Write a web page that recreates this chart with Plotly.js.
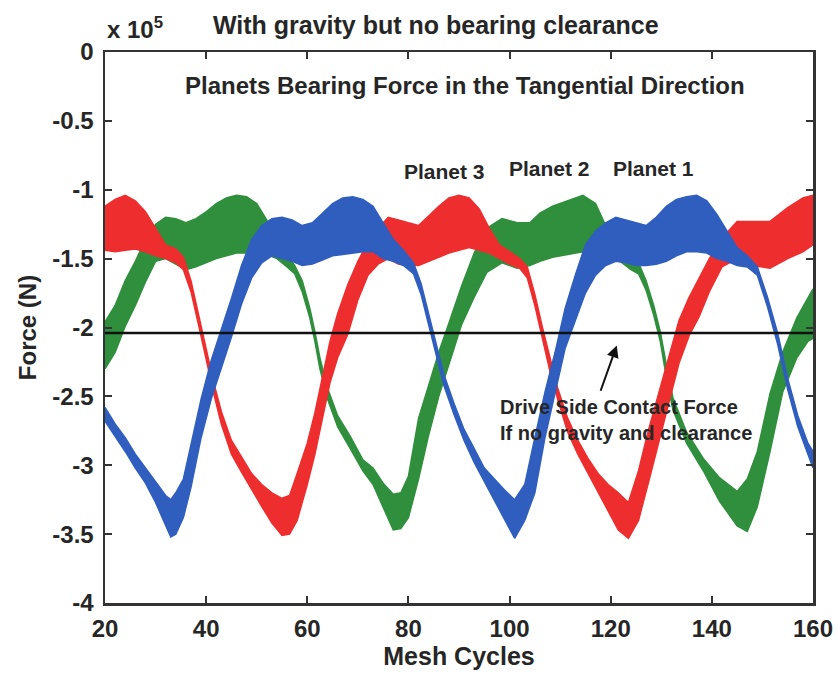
<!DOCTYPE html>
<html>
<head>
<meta charset="utf-8">
<script src="https://cdn.plot.ly/plotly-3.0.1.min.js"></script>
<style>html,body{margin:0;padding:0;background:#fff;}#chart{width:838px;height:673px;}</style>
</head>
<body>
<div id="chart"></div>
<script>
// Values in units of 1e5 N (axis shows "x 10^5")
// Planet 1 (blue): band (lower / upper envelope)
const p1X  = [20,22,24,26,28,30,32,33,34,35.5,37,39,41,43,45,47,49,51,53,55,57,59,61,63,65,67,69,71,73,75,77,79,81,82.5,84,85.5,87,89,91,93,95,97,99,101,103,105,107,109,111,113,115,117,119,121,123,125,127,129,131,133,135,137,139,141,143,145,147,149,151,153,155,157,159,160];
const p1Lo = [-2.68,-2.79,-2.90,-3.02,-3.13,-3.27,-3.44,-3.52,-3.50,-3.38,-3.16,-2.80,-2.52,-2.30,-2.07,-1.83,-1.64,-1.53,-1.48,-1.50,-1.52,-1.55,-1.54,-1.51,-1.48,-1.47,-1.46,-1.45,-1.45,-1.50,-1.52,-1.55,-1.61,-1.76,-1.98,-2.20,-2.42,-2.63,-2.82,-2.98,-3.12,-3.26,-3.40,-3.53,-3.40,-3.20,-2.80,-2.48,-2.15,-1.95,-1.75,-1.62,-1.55,-1.52,-1.53,-1.55,-1.55,-1.54,-1.52,-1.48,-1.45,-1.45,-1.46,-1.50,-1.52,-1.55,-1.56,-1.62,-1.85,-2.12,-2.45,-2.72,-2.92,-3.02];
const p1Hi = [-2.58,-2.70,-2.80,-2.92,-3.02,-3.12,-3.22,-3.25,-3.20,-3.10,-2.86,-2.52,-2.24,-2.02,-1.79,-1.55,-1.36,-1.26,-1.21,-1.20,-1.22,-1.26,-1.24,-1.17,-1.10,-1.06,-1.05,-1.07,-1.12,-1.24,-1.36,-1.44,-1.53,-1.68,-1.90,-2.12,-2.34,-2.55,-2.74,-2.88,-3.02,-3.10,-3.18,-3.25,-3.14,-2.80,-2.47,-2.18,-1.86,-1.62,-1.40,-1.30,-1.24,-1.20,-1.22,-1.24,-1.26,-1.20,-1.12,-1.07,-1.05,-1.04,-1.08,-1.18,-1.30,-1.42,-1.48,-1.56,-1.78,-2.04,-2.37,-2.64,-2.84,-2.90];

// Planet 2 (green)
const p2X  = [20,22,24,26,28,30,32,34,36,38,40,42,44,46,48,50,52,54,56,57.5,59,60.5,61.5,62.5,64,66,68.5,71,73,75,77,78.5,80,82,84,86,88,90.5,93,95.5,98.5,101.5,104,106,108.5,111.5,114.5,117,119.5,121.5,124,125.5,127,128.5,129.8,131,132.3,135,138.3,141.5,145,147,149,151.5,154,156.8,159,160];
const p2Lo = [-2.30,-2.18,-1.99,-1.84,-1.67,-1.52,-1.50,-1.54,-1.58,-1.56,-1.53,-1.50,-1.48,-1.46,-1.46,-1.48,-1.47,-1.50,-1.56,-1.61,-1.74,-1.93,-2.10,-2.30,-2.52,-2.72,-2.88,-3.04,-3.14,-3.30,-3.47,-3.46,-3.38,-3.10,-2.78,-2.50,-2.27,-1.98,-1.78,-1.60,-1.53,-1.57,-1.55,-1.52,-1.49,-1.47,-1.45,-1.45,-1.45,-1.51,-1.58,-1.61,-1.73,-1.91,-2.10,-2.36,-2.60,-2.84,-3.04,-3.26,-3.44,-3.48,-3.30,-2.90,-2.47,-2.22,-2.10,-2.08];
const p2Hi = [-1.96,-1.84,-1.66,-1.52,-1.36,-1.25,-1.20,-1.21,-1.24,-1.21,-1.16,-1.10,-1.06,-1.04,-1.05,-1.10,-1.22,-1.38,-1.48,-1.55,-1.66,-1.86,-2.03,-2.22,-2.44,-2.64,-2.79,-2.96,-3.02,-3.13,-3.21,-3.20,-3.08,-2.66,-2.42,-2.18,-1.97,-1.70,-1.46,-1.28,-1.21,-1.24,-1.24,-1.17,-1.12,-1.08,-1.04,-1.10,-1.30,-1.42,-1.50,-1.53,-1.66,-1.84,-2.03,-2.27,-2.51,-2.76,-2.95,-3.09,-3.19,-3.10,-2.90,-2.48,-2.18,-1.93,-1.78,-1.72];

// Planet 3 (red)
const p3X  = [20,22,24,26,28,30,32,34,35.5,37,38.5,40,41.5,43,45,47,49,51,53,55,56.5,58,60,61.5,63,64.5,66,68,70,72,74,76,78,80,82,84,86,88,90,92,94,96,98,100,102,103.5,105,106.5,108,109.5,111.5,113.5,115.5,117.5,119.5,121.5,123.5,125.5,127.5,129.5,131.5,133.5,135.5,137.5,139.5,142,145,148,151.5,155,158,160];
const p3Lo = [-1.44,-1.45,-1.44,-1.43,-1.45,-1.48,-1.50,-1.53,-1.58,-1.74,-1.98,-2.24,-2.48,-2.70,-2.92,-3.05,-3.18,-3.30,-3.42,-3.51,-3.50,-3.40,-3.14,-2.92,-2.66,-2.40,-2.22,-2.05,-1.80,-1.62,-1.54,-1.50,-1.54,-1.55,-1.55,-1.52,-1.49,-1.46,-1.44,-1.42,-1.44,-1.46,-1.50,-1.54,-1.57,-1.64,-1.84,-2.08,-2.32,-2.52,-2.76,-2.92,-3.06,-3.20,-3.34,-3.47,-3.53,-3.40,-3.12,-2.84,-2.54,-2.26,-2.06,-1.92,-1.74,-1.56,-1.50,-1.55,-1.57,-1.50,-1.45,-1.40];
const p3Hi = [-1.12,-1.07,-1.04,-1.08,-1.16,-1.28,-1.40,-1.43,-1.49,-1.66,-1.90,-2.16,-2.40,-2.61,-2.82,-2.94,-3.06,-3.14,-3.20,-3.24,-3.22,-3.06,-2.84,-2.62,-2.36,-2.10,-1.90,-1.69,-1.52,-1.38,-1.28,-1.20,-1.22,-1.24,-1.26,-1.19,-1.12,-1.06,-1.04,-1.06,-1.14,-1.28,-1.40,-1.45,-1.50,-1.56,-1.76,-2.00,-2.22,-2.44,-2.66,-2.82,-2.95,-3.06,-3.14,-3.20,-3.27,-3.04,-2.74,-2.48,-2.22,-1.95,-1.78,-1.64,-1.50,-1.35,-1.23,-1.23,-1.23,-1.13,-1.06,-1.04];

// Drive side contact force (no gravity, no clearance)
const driveX = [20, 160];
const driveY = [-2.04, -2.04];

// Axis ticks
const xTicks = [20, 40, 60, 80, 100, 120, 140, 160];
const yTickVals = [0, -0.5, -1, -1.5, -2, -2.5, -3, -3.5, -4];
const yTickText = ['0', '-0.5', '-1', '-1.5', '-2', '-2.5', '-3', '-3.5', '-4'];

const FONT = 'Liberation Sans, Arial, sans-serif';
const TXT = '#262626';

function band(x, lo, hi, color) {
  return [
    {x: x, y: lo, type: 'scatter', mode: 'lines', line: {color: color, width: 1.5}, hoverinfo: 'skip'},
    {x: x, y: hi, type: 'scatter', mode: 'lines', line: {color: color, width: 1.5},
     fill: 'tonexty', fillcolor: color, hoverinfo: 'skip'}
  ];
}

const data = [].concat(
  band(p2X, p2Lo, p2Hi, '#2f8f3c'),
  band(p3X, p3Lo, p3Hi, '#ee2e2e'),
  band(p1X, p1Lo, p1Hi, '#2f5ebf'),
  [{x: driveX, y: driveY, type: 'scatter', mode: 'lines', line: {color: '#111111', width: 2.5}}]
);

const layout = {
  width: 838, height: 673,
  margin: {l: 105, r: 25, t: 52, b: 70},
  paper_bgcolor: '#ffffff', plot_bgcolor: '#ffffff',
  showlegend: false,
  font: {family: FONT, color: TXT, size: 24, weight: 'bold'},
  title: {
    text: 'With gravity but no bearing clearance',
    font: {family: FONT, size: 25, color: TXT, weight: 'bold'},
    x: 0.52, xanchor: 'center', xref: 'container',
    y: 0.962, yanchor: 'middle', yref: 'container'
  },
  xaxis: {
    range: [20, 160], tickvals: xTicks, ticks: 'inside', ticklen: 7, tickwidth: 2, tickcolor: '#333',
    showline: true, linewidth: 2.5, linecolor: '#333', mirror: 'ticks',
    showgrid: false, zeroline: false,
    tickfont: {family: FONT, size: 24, color: TXT, weight: 'bold'},
    ticklabelstandoff: 3,
    title: {text: 'Mesh Cycles', font: {family: FONT, size: 25, color: TXT, weight: 'bold'}, standoff: 0}
  },
  yaxis: {
    range: [-4, 0], tickvals: yTickVals, ticktext: yTickText,
    ticks: 'inside', ticklen: 7, tickwidth: 2, tickcolor: '#333',
    showline: true, linewidth: 2.5, linecolor: '#333', mirror: 'ticks',
    showgrid: false, zeroline: false,
    tickfont: {family: FONT, size: 24, color: TXT, weight: 'bold'},
    ticklabelstandoff: 4,
    title: {text: 'Force (N)', font: {family: FONT, size: 24, color: TXT, weight: 'bold'}, standoff: 9}
  },
  annotations: [
    {xref: 'paper', yref: 'paper', x: 0.0, y: 1.012, xanchor: 'left', yanchor: 'bottom',
     text: 'x 10<sup>5</sup>', showarrow: false, font: {family: FONT, size: 24, color: TXT, weight: 'bold'}},
    {xref: 'x', yref: 'y', x: 91.1, y: -0.245, xanchor: 'center', yanchor: 'middle',
     text: 'Planets Bearing Force in the Tangential Direction', showarrow: false,
     font: {family: FONT, size: 24, color: TXT, weight: 'bold'}},
    {xref: 'x', yref: 'y', x: 87.2, y: -0.87, text: 'Planet 3', showarrow: false,
     font: {family: FONT, size: 21, color: TXT, weight: 'bold'}},
    {xref: 'x', yref: 'y', x: 107.8, y: -0.845, text: 'Planet 2', showarrow: false,
     font: {family: FONT, size: 21, color: TXT, weight: 'bold'}},
    {xref: 'x', yref: 'y', x: 128.4, y: -0.845, text: 'Planet 1', showarrow: false,
     font: {family: FONT, size: 21, color: TXT, weight: 'bold'}},
    {xref: 'x', yref: 'y', x: 97.7, y: -2.67, xanchor: 'left', yanchor: 'middle', align: 'left',
     text: 'Drive Side Contact Force<br>If no gravity and clearance', showarrow: false,
     font: {family: FONT, size: 20, color: TXT, weight: 'bold'}},
    {xref: 'x', yref: 'y', axref: 'x', ayref: 'y', x: 121.2, y: -2.13, ax: 117.9, ay: -2.47,
     text: '', showarrow: true, arrowhead: 2, arrowsize: 1.2, arrowwidth: 2, arrowcolor: '#111'}
  ]
};

Plotly.newPlot('chart', data, layout, {staticPlot: true, displayModeBar: false});
</script>
</body>
</html>
